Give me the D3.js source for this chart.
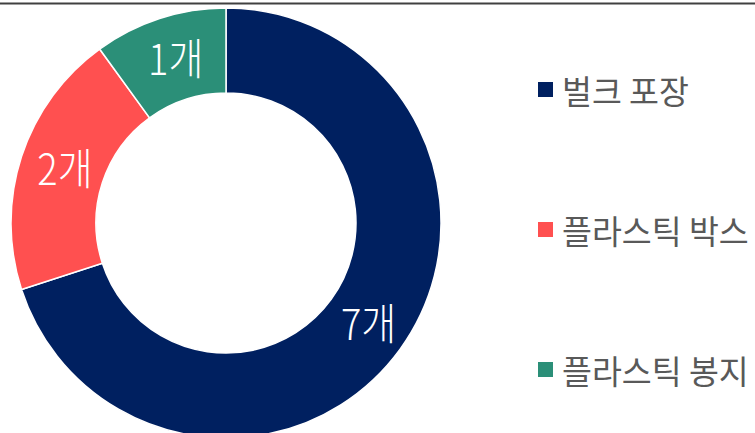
<!DOCTYPE html>
<html><head><meta charset="utf-8">
<script src="https://cdn.jsdelivr.net/npm/d3@7"></script>
<style>html,body{margin:0;padding:0;background:#fff;}svg{display:block;}</style>
</head><body>
<svg id="c" width="755" height="433"></svg>
<script>
const categories = ["벌크 포장", "플라스틱 박스", "플라스틱 봉지"];
const values = [7, 2, 1];
const labels = ["7개", "2개", "1개"];
const colors = ["#002060", "#FF5050", "#2B8F78"];

const svg = d3.select("#c");
const W = 755, H = 433;
svg.append("rect").attr("x",0).attr("y",0).attr("width",W).attr("height",H).attr("fill","#fff");
svg.append("line").attr("x1",0).attr("x2",W).attr("y1",3.5).attr("y2",3.5)
  .attr("stroke","#404040").attr("stroke-width",2);

const cx = 226, cy = 223, R = 215, r = 130;
const pie = d3.pie().sort(null).value(d => d);
const arc = d3.arc().innerRadius(r).outerRadius(R);
const labelArc = d3.arc().innerRadius((R + r) / 2).outerRadius((R + r) / 2);
const g = svg.append("g").attr("transform", `translate(${cx},${cy})`);
const arcs = pie(values);
g.selectAll("path").data(arcs).join("path")
  .attr("d", arc).attr("fill", (d, i) => colors[i])
  .attr("stroke", "#fff").attr("stroke-width", 1.5);
g.selectAll("text").data(arcs).join("text")
  .attr("transform", d => { const c = labelArc.centroid(d); return `translate(${c[0]+3},${c[1]-3}) scale(0.95,1.08)`; })
  .attr("text-anchor", "middle").attr("dominant-baseline", "central")
  .attr("fill", "#fff")
  .style("font-family", "'Noto Sans CJK KR', sans-serif")
  .style("font-weight", 300)
  .style("font-size", "40px")
  .text((d, i) => labels[i]);

const ly = d3.scalePoint().domain(categories).range([89.5, 369.5]);
const leg = svg.append("g");
categories.forEach((c, i) => {
  const y = ly(c);
  leg.append("rect").attr("x", 538).attr("y", y - 7.5).attr("width", 15).attr("height", 15).attr("fill", colors[i]);
  leg.append("text").attr("x", 562).attr("y", y).attr("dominant-baseline", "central")
    .attr("fill", "#595959")
    .style("font-family", "'Noto Sans CJK KR', sans-serif")
    .style("font-size", "32.5px")
    .text(c);
});
</script>
</body></html>
